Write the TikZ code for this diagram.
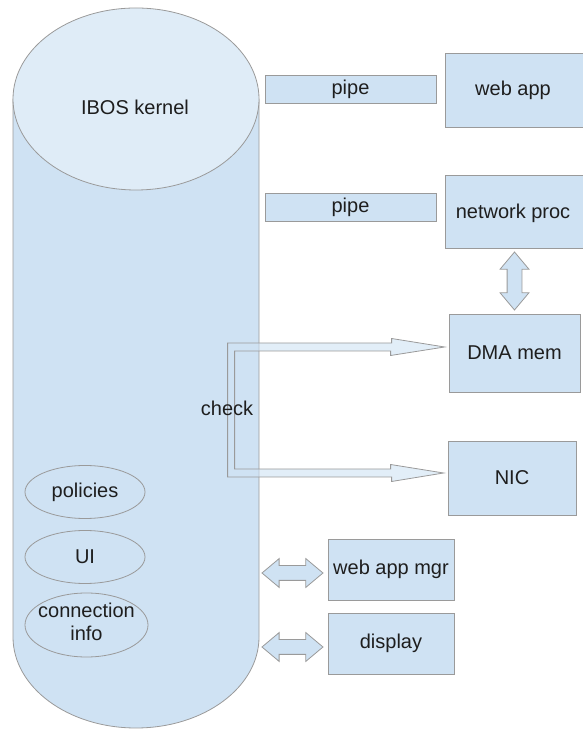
\documentclass[tikz,border=0pt]{standalone}
\usepackage{fontspec}
\setmainfont{Liberation Sans}
\usepackage{tikz}
\usetikzlibrary{calc}
\usetikzlibrary{shapes.geometric,shapes.arrows}
\definecolor{bodyblue}{HTML}{CFE2F3}
\definecolor{topblue}{HTML}{DFECF7}
\definecolor{edgegray}{HTML}{9A9A9A}
\definecolor{inkgray}{HTML}{1E1E1E}
\tikzstyle{outline}=[draw=edgegray,line width=.8pt]
\tikzstyle{box}=[outline,fill=bodyblue,text=inkgray,inner sep=0pt]
\tikzstyle{blob}=[outline,fill=bodyblue,text=inkgray,ellipse,inner sep=0pt,align=center]
\tikzstyle{dblarrow}=[outline,fill=bodyblue,double arrow,inner sep=7pt,minimum width=1pt,
  double arrow head extend=7pt,double arrow tip angle=80,double arrow head indent=0pt]

\begin{document}
\begin{tikzpicture}[x=1pt,y=1pt,font=\fontsize{20}{22}\selectfont]
	\useasboundingbox (0,0) rectangle (582,730);
	% kernel cylinder
	\draw[outline,fill=bodyblue] (13,631) -- (13,93)
	  arc[start angle=180,end angle=360,x radius=123,y radius=91] -- (259,631) -- cycle;
	\draw[outline,fill=topblue] (136,631) ellipse[x radius=123,y radius=91];
	\node[text=inkgray] (kernel) at (135,623) {IBOS kernel};
	\node[blob,minimum width=120pt,minimum height=53pt] (policies) at (85,238) {policies};
	\node[blob,minimum width=120pt,minimum height=53pt] (ui) at (85,173) {UI};
	\node[blob,minimum width=123pt,minimum height=64pt] (conninfo) at (86.5,105)
	  {\makebox[0pt]{\raisebox{-3pt}{\begin{tabular}{@{}c@{}}connection\\[1pt]info\end{tabular}}}};
	% right hand side
	\node[box,minimum width=171pt,minimum height=28pt] (pipeA) at (350.5,641) {pipe};
	\node[box,minimum width=171pt,minimum height=28pt] (pipeB) at (350.5,523) {pipe};
	\node[box,minimum width=139pt,minimum height=74pt] (webapp) at (514.5,640) {};
	\node[text=inkgray] at (webapp.center) [xshift=-1.5pt] {web app};
	\node[box,minimum width=139pt,minimum height=73pt] (netproc) at (514.5,518.5) {};
	\node[text=inkgray] at (netproc.center) [xshift=-1.5pt,yshift=-2pt] {network proc};
	\node[box,minimum width=131pt,minimum height=78pt] (dma) at (514.5,377) {DMA mem};
	\node[box,minimum width=128pt,minimum height=74pt] (nic) at (512,252) {NIC};
	\node[box,minimum width=126pt,minimum height=61pt] (wamgr) at (391,160.5) {web app mgr};
	\node[box,minimum width=126pt,minimum height=61pt] (display) at (391,86.5) {display};
	% block arrows
	\node[dblarrow,rotate=90,minimum height=58pt] at ($(netproc.south)!.5!(dma.north)$) {};
	\node[dblarrow,anchor=east,minimum height=61pt] at ([xshift=-4pt,yshift=-3.5pt]wamgr.west) {};
	\node[dblarrow,anchor=east,minimum height=61pt] at ([xshift=-4pt,yshift=-3.5pt]display.west) {};
	\coordinate (tipA) at ([xshift=-4pt,yshift=6pt]dma.west);
	\coordinate (tipB) at ([xshift=-4pt,yshift=5pt]nic.west);
	\draw[outline,fill=bodyblue,fill opacity=.6] (tipA) -- ++(-53,8.5) -- ++(0,-4.5) -- ++(-164,0) -- ++(0,-134)
	  -- ++(164,0) -- ++(0,-4.5) -- (tipB) -- ++(-53,8.5) -- ++(0,-4.5) -- ++(-156,0)
	  -- ++(0,118) -- ++(156,0) -- ++(0,-4.5) -- cycle;
	\node[text=inkgray] (check) at (227,322) {check};
\end{tikzpicture}
\end{document}
